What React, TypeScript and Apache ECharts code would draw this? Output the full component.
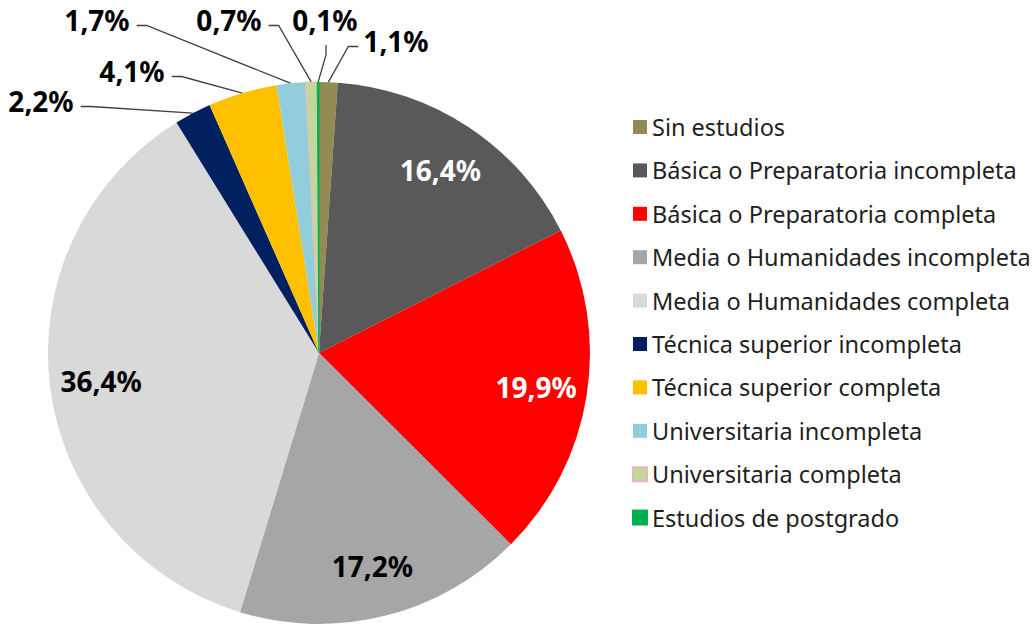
import React, { useEffect, useRef } from 'react';
import * as echarts from 'echarts';

const CATEGORIES = [
  'Sin estudios',
  'Básica o Preparatoria incompleta',
  'Básica o Preparatoria completa',
  'Media o Humanidades incompleta',
  'Media o Humanidades completa',
  'Técnica superior incompleta',
  'Técnica superior completa',
  'Universitaria incompleta',
  'Universitaria completa',
  'Estudios de postgrado',
];
const VALUES = [1.1, 16.4, 19.9, 17.2, 36.4, 2.2, 4.1, 1.7, 0.7, 0.1];
const COLORS = [
  '#948A54', '#595959', '#FF0000', '#A6A6A6', '#D9D9D9',
  '#002060', '#FFC000', '#92CDDC', '#C3D69B', '#00B050',
];
const BORDERS = [null, null, null, null, null, null, null, null, '#E6B9B8', '#00B050'];

// which slices are labelled inside (with text colour) and which outside
const INSIDE_LABEL_COLORS: Record<number, string> = { 1: '#FFFFFF', 2: '#FFFFFF', 3: '#000000', 4: '#000000' };
const OUTSIDE_INDICES = [0, 5, 6, 7, 8, 9];
// label layout (text centres) for the outside labels
const OUTSIDE_LABEL_POS: Record<number, [number, number]> = {
  0: [397, 41],
  9: [326, 20],
  8: [230, 20],
  7: [98, 20],
  6: [133, 71],
  5: [42, 101],
};

const FONT = 'Noto Sans';
const CENTER: [number, number] = [319, 353];
const RADIUS = 271;
const SPACER = 16;

const fmt = (v: number) => v.toFixed(1).replace('.', ',') + '%';

export default function App() {
  const ref = useRef<HTMLDivElement>(null);
  useEffect(() => {
    if (!ref.current) return;
    const chart = echarts.init(ref.current, undefined, { renderer: 'svg' });
    chart.setOption({
      animation: false,
      backgroundColor: '#FFFFFF',
      legend: {
        data: CATEGORIES,
        orient: 'vertical',
        left: 627,
        top: 110,
        itemWidth: 14,
        itemHeight: 14,
        itemGap: 19.4,
        icon: 'rect',
        selectedMode: false,
        textStyle: { fontFamily: FONT, fontSize: 23.5, color: '#1F1F1F', lineHeight: 24 },
      },
      series: [
        {
          type: 'pie',
          center: CENTER,
          radius: [0, RADIUS],
          startAngle: 90,
          clockwise: true,
          avoidLabelOverlap: false,
          emphasis: { disabled: true },
          label: {
            position: 'outside',
            formatter: (p: any) => '{v|' + fmt(p.value) + '}\n{s| }',
            rich: {
              v: {
                fontFamily: FONT,
                fontSize: 28,
                fontWeight: 'bold',
                color: '#000000',
                lineHeight: 30,
                padding: [0, 7, 0, 5],
              },
              s: { fontSize: 4, lineHeight: SPACER },
            },
          },
          labelLine: { length: 10, length2: 10, lineStyle: { color: '#404040', width: 1.3 } },
          labelLayout: (params: any) => {
            const p = OUTSIDE_LABEL_POS[params.dataIndex];
            if (!p) return {};
            return { x: p[0], y: p[1] + SPACER / 2, align: 'center', verticalAlign: 'middle' };
          },
          data: CATEGORIES.map((name, i) => ({
            name,
            value: VALUES[i],
            itemStyle: BORDERS[i]
              ? { color: COLORS[i], borderColor: BORDERS[i], borderWidth: 1 }
              : { color: COLORS[i], borderWidth: 0 },
            label: { show: OUTSIDE_INDICES.includes(i) },
            labelLine: { show: OUTSIDE_INDICES.includes(i) },
          })),
        },
        {
          type: 'pie',
          center: CENTER,
          radius: [RADIUS * 0.6, RADIUS],
          startAngle: 90,
          clockwise: true,
          silent: true,
          avoidLabelOverlap: false,
          emphasis: { disabled: true },
          label: {
            position: 'inside',
            formatter: (p: any) => fmt(p.value),
            fontFamily: FONT,
            fontSize: 28,
            fontWeight: 'bold',
          },
          labelLine: { show: false },
          data: CATEGORIES.map((name, i) => ({
            name,
            value: VALUES[i],
            itemStyle: { color: 'rgba(0,0,0,0)', borderWidth: 0 },
            label: {
              show: INSIDE_LABEL_COLORS[i] !== undefined,
              color: INSIDE_LABEL_COLORS[i] || '#000000',
            },
          })),
        },
      ],
    });
    return () => chart.dispose();
  }, []);
  return (
    <div
      ref={ref}
      style={{ position: 'absolute', left: 0, top: 0, width: 1036, height: 625 }}
    />
  );
}
